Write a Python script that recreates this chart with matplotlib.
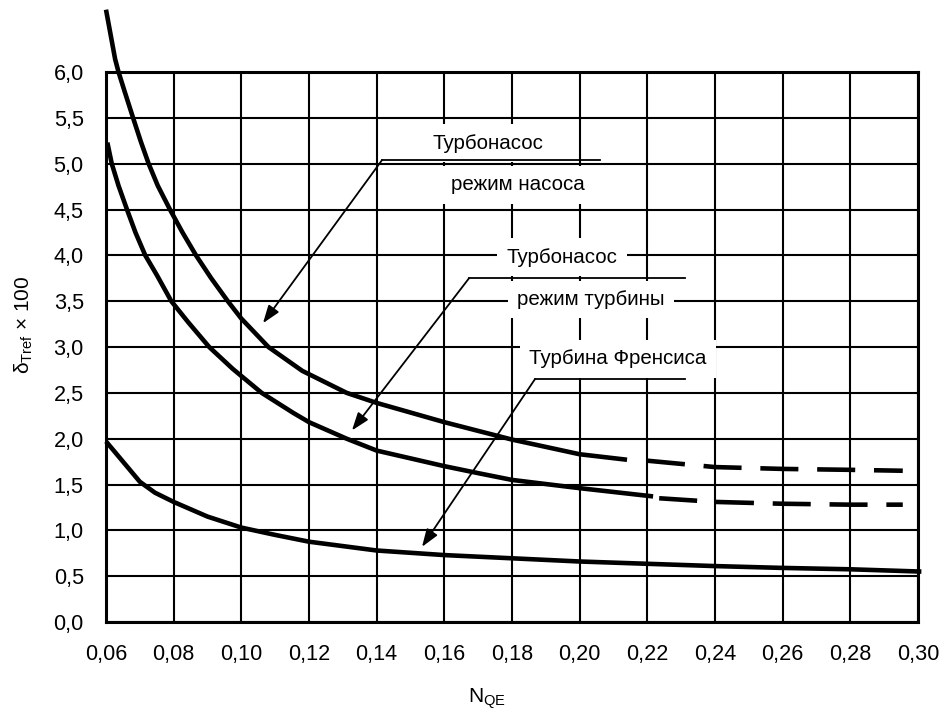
import numpy as np
import matplotlib
matplotlib.use("Agg")
import matplotlib.pyplot as plt

plt.rcParams['font.family'] = ['Liberation Sans', 'DejaVu Sans']
plt.rcParams['mathtext.fontset'] = 'custom'
plt.rcParams['mathtext.rm'] = 'Liberation Sans'
plt.rcParams['mathtext.it'] = 'Liberation Sans:italic'

# axis ticks
x_ticks = [0.06, 0.08, 0.10, 0.12, 0.14, 0.16, 0.18, 0.20, 0.22, 0.24, 0.26, 0.28, 0.30]
x_labels = ['0,06', '0,08', '0,10', '0,12', '0,14', '0,16', '0,18', '0,20',
            '0,22', '0,24', '0,26', '0,28', '0,30']
y_ticks = [0.0, 0.5, 1.0, 1.5, 2.0, 2.5, 3.0, 3.5, 4.0, 4.5, 5.0, 5.5, 6.0]
y_labels = ['0,0', '0,5', '1,0', '1,5', '2,0', '2,5', '3,0', '3,5', '4,0',
            '4,5', '5,0', '5,5', '6,0']

# pump-turbine, pump mode (solid part + dashed extrapolation)
pump_x = [0.0600, 0.0627, 0.0637, 0.0654, 0.0680, 0.0703, 0.0726, 0.0753,
          0.0789, 0.0826, 0.0866, 0.0910, 0.0960, 0.1000, 0.1080, 0.1180,
          0.1311, 0.1400, 0.1600, 0.1705, 0.1800, 0.2000, 0.2140]
pump_y = [6.68, 6.14, 6.00, 5.80, 5.50, 5.24, 5.00, 4.76,
          4.50, 4.25, 4.00, 3.755, 3.50, 3.31, 3.00, 2.74,
          2.50, 2.39, 2.18, 2.08, 1.99, 1.83, 1.77]
pump_dash_x = [0.2199, 0.24, 0.26, 0.28, 0.2955]
pump_dash_y = [1.76, 1.69, 1.67, 1.66, 1.65]

# pump-turbine, turbine mode
turb_x = [0.0604, 0.0617, 0.0637, 0.0662, 0.0687, 0.0716, 0.0751, 0.0793,
          0.0843, 0.0905, 0.0975, 0.1060, 0.1154, 0.1200, 0.1311, 0.1400,
          0.1600, 0.1705, 0.1800, 0.2000, 0.2217]
turb_y = [5.23, 5.00, 4.76, 4.50, 4.25, 4.00, 3.78, 3.50,
          3.27, 3.00, 2.76, 2.50, 2.28, 2.18, 2.00, 1.87,
          1.70, 1.62, 1.55, 1.46, 1.37]
turb_dash_x = [0.2235, 0.24, 0.26, 0.28, 0.2955]
turb_dash_y = [1.35, 1.31, 1.29, 1.28, 1.28]

# Francis turbine
fr_x = [0.060, 0.070, 0.0745, 0.080, 0.090, 0.100, 0.110, 0.120, 0.140, 0.160,
        0.180, 0.200, 0.220, 0.240, 0.260, 0.280, 0.301]
fr_y = [1.97, 1.53, 1.41, 1.31, 1.15, 1.03, 0.95, 0.876, 0.78, 0.73,
        0.695, 0.66, 0.635, 0.61, 0.59, 0.575, 0.55]

fs = 14.8
fig = plt.figure(figsize=(9.41, 7.11), dpi=100)
ax = fig.add_axes([106 / 941, 89 / 711, 812 / 941, 550 / 711])

ax.set_xlim(0.06, 0.30)
ax.set_ylim(0.0, 6.0)
ax.set_xticks(x_ticks)
ax.set_xticklabels(x_labels)
ax.set_yticks(y_ticks)
ax.set_yticklabels(y_labels)
ax.tick_params(length=0, pad=16, labelsize=15.6)
ax.set_axisbelow(True)
ax.grid(True, color='black', lw=1.5)
for s in ax.spines.values():
    s.set_linewidth(2.2)
    s.set_zorder(5)

lw = 3.3
style = dict(color='black', lw=lw, zorder=4, solid_capstyle='butt',
             solid_joinstyle='round')
ax.plot(pump_x, pump_y, clip_on=False, **style)
ax.plot(turb_x, turb_y, clip_on=False, **style)
ax.plot(fr_x, fr_y, clip_on=False, **style)
ax.plot(pump_dash_x, pump_dash_y, color='black', lw=lw, zorder=4,
        dashes=(8.3, 4.1), dash_capstyle='butt')
ax.plot(turb_dash_x, turb_dash_y, color='black', lw=lw, zorder=4,
        dashes=(8.3, 4.1), dash_capstyle='butt')

# labels with leader lines and arrows
box = dict(boxstyle='square,pad=0.45', fc='white', ec='none')
arrow = dict(arrowstyle='-|>,head_length=0.9,head_width=0.32', color='black',
             lw=1.3, shrinkA=0, shrinkB=0, mutation_scale=12)

notes = [
    # (line1, pos1, line2, pos2, elbow, leader_end, tip)
    ('Турбонасос', (0.1729, 5.225), 'режим насоса', (0.1818, 4.77),
     (0.1416, 5.04), 0.2060, (0.1064, 3.26)),
    ('Турбонасос', (0.1948, 3.98), 'режим турбины', (0.2034, 3.52),
     (0.1673, 3.75), 0.2311, (0.1327, 2.09)),
    ('Турбина Френсиса', (0.2113, 2.87), None, None,
     (0.1868, 2.65), 0.2311, (0.1534, 0.82)),
]
for t1, p1, t2, p2, elbow, xend, tip in notes:
    ax.text(p1[0], p1[1], t1, ha='center', va='center', fontsize=fs,
            bbox=box, zorder=3)
    if t2:
        ax.text(p2[0], p2[1], t2, ha='center', va='center', fontsize=fs,
                bbox=box, zorder=3)
    ax.plot([elbow[0], xend], [elbow[1], elbow[1]], color='black', lw=1.3,
            zorder=4)
    ax.annotate('', xy=tip, xytext=elbow, arrowprops=arrow, zorder=4)

fig.text(24 / 941, 1 - 325 / 711, 'δ$_{\\mathrm{Tref}}$ × 100', rotation=90,
         ha='center', va='center', fontsize=15)
fig.text(468 / 941, 1 - 703 / 711, 'N$_{\\mathrm{QE}}$', ha='left',
         va='baseline', fontsize=15)

fig.savefig('out.png', dpi=100)
